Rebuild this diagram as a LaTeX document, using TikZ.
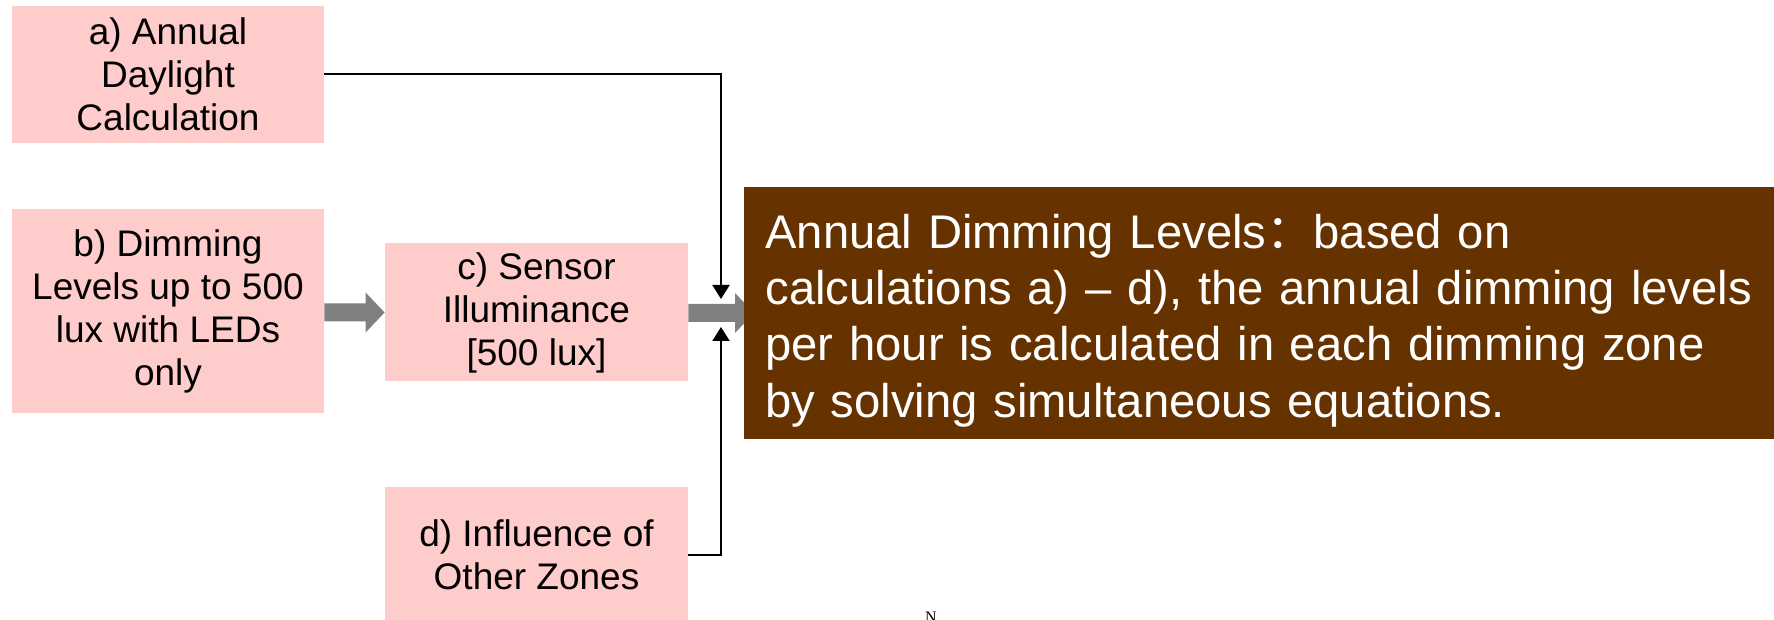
\documentclass[tikz,border=0pt]{standalone}
\usepackage{fontspec}
\setmainfont{Liberation Sans}
\newfontfamily\cjk{Noto Sans CJK SC}
\newfontfamily\serifN{Liberation Serif}
\usetikzlibrary{arrows.meta,calc}
\hyphenpenalty=10000
\exhyphenpenalty=10000
\definecolor{pinkbox}{HTML}{FFCCCC}
\definecolor{brownbox}{HTML}{663300}
\definecolor{arrowgray}{HTML}{808080}
\newcommand\grayarrow[2]{%
  \fill[arrowgray] let \p1=(#1), \p2=(#2) in
    (\x1,\y2+4.5pt) -- (\x2-9.5pt,\y2+4.5pt) -- (\x2-9.5pt,\y2+10pt) -- (\x2,\y2)
    -- (\x2-9.5pt,\y2-10pt) -- (\x2-9.5pt,\y2-4.5pt) -- (\x1,\y2-4.5pt) -- cycle;}
\begin{document}
\begin{tikzpicture}[x=0.5pt,y=-0.5pt,
  pinkstyle/.style={fill=pinkbox, draw=none, align=center, inner sep=0pt,
    font=\fontsize{18.5pt}{21.5pt}\selectfont},
  brownstyle/.style={fill=brownbox, draw=none, text=white, align=left,
    inner xsep=10.5pt, inner ysep=0pt, text width=504pt, minimum height=126pt,
    font=\fontsize{23.6pt}{28.2pt}\selectfont},
  conn/.style={draw=black, line width=1pt, -{Triangle[width=8.5pt,length=7pt]}}]
\useasboundingbox (0,0) rectangle (1774,620);
\node[pinkstyle, minimum width=156pt, minimum height=68.5pt] (a) at (168,74.5)
  {a) Annual\\Daylight\\Calculation};
\node[pinkstyle, minimum width=156pt, minimum height=102pt] (b) at (168,311)
  {b) Dimming\\Levels up to 500\\lux with LEDs\\only};
\node[pinkstyle, minimum width=151.5pt, minimum height=69pt] (c) at (536.5,312.5)
  {c) Sensor\\Illuminance\\{[500 lux]}};
\node[pinkstyle, minimum width=151.5pt, minimum height=67.5pt] (d) at (536.5,554.5)
  {d) Influence of\\Other Zones};
\coordinate (ta) at (721,299);
\coordinate (td) at (721,327);
\coordinate (xe) at (754,313);
\grayarrow{b.east}{c.west}
\grayarrow{c.east}{xe}
\node[brownstyle, anchor=west] (x) at (744,313)
  {\rule{0pt}{24.6pt}Annual Dimming Levels{\cjk ：}based on\\calculations a) – d), the annual dimming levels\\per hour is calculated in each dimming zone\\by solving simultaneous equations.};
\draw[conn] (a.east) -| (ta);
\draw[conn] (d.east) -| (td);
\node[font=\serifN\fontsize{8pt}{9pt}\selectfont, anchor=north, inner sep=0pt] (n) at (931,612) {N};
\end{tikzpicture}
\end{document}
